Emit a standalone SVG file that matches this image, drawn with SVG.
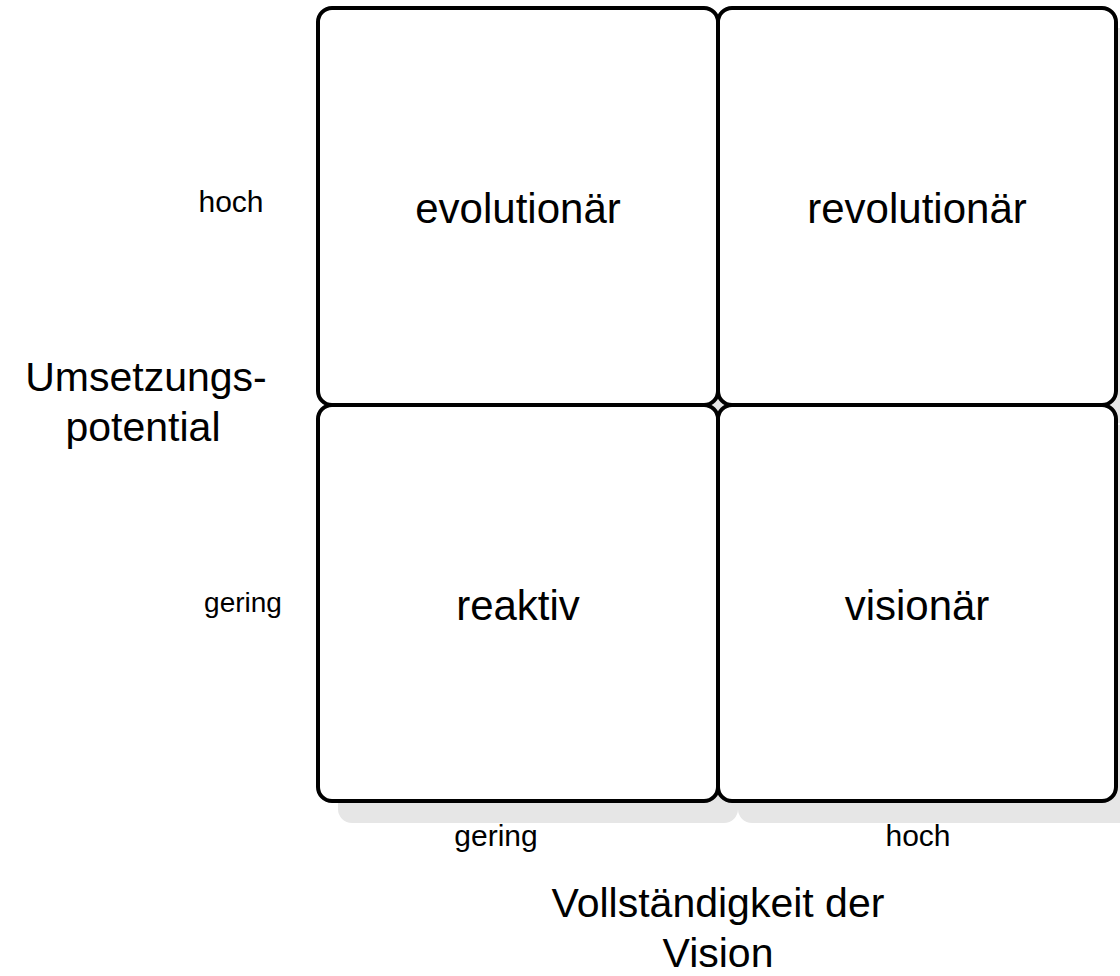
<svg xmlns="http://www.w3.org/2000/svg" width="1120" height="976" viewBox="0 0 1120 976">
<style>
.box{fill:#ffffff;stroke:#000000;stroke-width:4}
.shadow{fill:#e6e6e6;stroke:none}
.big{font-family:"Liberation Sans",Arial,sans-serif;font-size:42px;fill:#000;text-anchor:middle}
.axis{font-family:"Liberation Sans",Arial,sans-serif;font-size:41px;fill:#000;text-anchor:middle}
.small{font-family:"Liberation Sans",Arial,sans-serif;font-size:30px;fill:#000;text-anchor:middle}
</style>
<rect width="1120" height="976" fill="#ffffff"/>
<g id="shadows">
<rect class="shadow" x="338" y="28" width="400" height="395" rx="14"/>
<rect class="shadow" x="738" y="28" width="398" height="395" rx="14"/>
<rect class="shadow" x="338" y="425" width="400" height="398" rx="14"/>
<rect class="shadow" x="738" y="425" width="398" height="398" rx="14"/>
</g>
<g id="evolutionaer">
<rect class="box" x="318" y="8" width="400" height="397" rx="14"/>
<text class="big" x="518" y="223">evolutionär</text>
</g>
<g id="revolutionaer">
<rect class="box" x="718" y="8" width="398" height="397" rx="14"/>
<text class="big" x="917" y="223">revolutionär</text>
</g>
<g id="reaktiv">
<rect class="box" x="318" y="405" width="400" height="396" rx="14"/>
<text class="big" x="518" y="620">reaktiv</text>
</g>
<g id="visionaer">
<rect class="box" x="718" y="405" width="398" height="396" rx="14"/>
<text class="big" x="917" y="620">visionär</text>
</g>
<g id="connectors"></g>
<g id="axis-labels">
<text class="small" x="231" y="212">hoch</text>
<text class="small" x="243" y="612" style="font-size:28px">gering</text>
<text class="small" x="496" y="846">gering</text>
<text class="small" x="918" y="846">hoch</text>
<text class="axis" x="146" y="391">Umsetzungs-</text>
<text class="axis" x="143" y="441">potential</text>
<text class="axis" x="718" y="917">Vollständigkeit der</text>
<text class="axis" x="718" y="967">Vision</text>
</g>
</svg>
